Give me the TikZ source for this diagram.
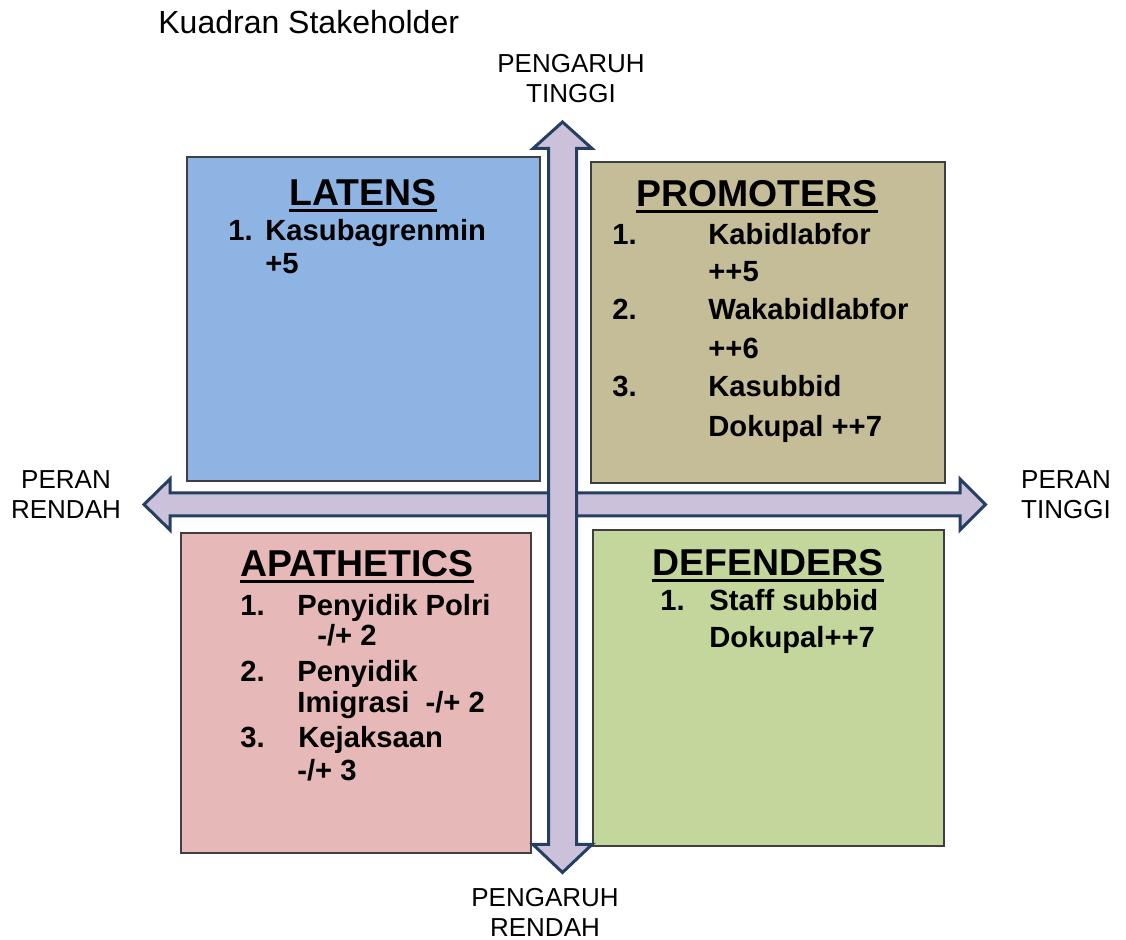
\documentclass[tikz,border=0pt]{standalone}
\usepackage{fontspec}
\setmainfont{Liberation Sans}
\definecolor{latfill}{HTML}{8EB4E3}
\definecolor{profill}{HTML}{C4BD97}
\definecolor{apafill}{HTML}{E6B9B8}
\definecolor{deffill}{HTML}{C3D69B}
\definecolor{axfill}{HTML}{CCC1DA}
\definecolor{axline}{HTML}{243F60}
\definecolor{boxline}{HTML}{3F3F3F}

\begin{document}
\begin{tikzpicture}[x=0.5pt,y=-0.5pt,
  quad/.style={draw=boxline,line width=0.9pt},
  axis/.style={fill=axfill,draw=axline,line width=1.5pt,line join=miter},
  qtitle/.style={anchor=base,inner sep=0pt,font=\bfseries\fontsize{18.7}{22}\selectfont},
  item/.style={anchor=base west,inner sep=0pt,font=\bfseries\fontsize{14.6}{17}\selectfont},
  axlabel/.style={align=center,inner sep=0pt,font=\fontsize{13}{15}\selectfont}]
\useasboundingbox (0,0) rectangle (1126,940);

% quadrants
\draw[quad,fill=latfill] (187,157) rectangle (540,481);
\draw[quad,fill=profill] (591,162) rectangle (945,483);
\draw[quad,fill=apafill] (181,533) rectangle (531,853);
\draw[quad,fill=deffill] (593,530) rectangle (944,846);

% axes
\draw[axis] (144,504.5) -- (170,479) -- (170,493) -- (960,493) -- (960,479)
  -- (985.5,504.5) -- (960,530) -- (960,516) -- (170,516) -- (170,530) -- cycle;
\draw[axis] (562.5,122) -- (592,148.5) -- (576.5,148.5) -- (576.5,844.5)
  -- (592,844.5) -- (562.5,872.5) -- (533,844.5) -- (548.5,844.5)
  -- (548.5,148.5) -- (533,148.5) -- cycle;

% labels
\node[anchor=base west,inner sep=0pt,font=\fontsize{16}{19}\selectfont] (title) at (158,33.5) {Kuadran Stakeholder};
\node[axlabel] (infHigh) at (571,79) {PENGARUH\\TINGGI};
\node[axlabel] (infLow) at (545,912) {PENGARUH\\RENDAH};
\node[axlabel] (roleLow) at (66,495) {PERAN\\RENDAH};
\node[axlabel] (roleHigh) at (1066,495) {PERAN\\TINGGI};

% latens
\node[qtitle] (latT) at (363,205.5) {LATENS};
\node[item] (lat1n) at (228,241) {1.};
\node[item] (lat1) at (265,241) {Kasubagrenmin};
\node[item] (lat1a) at (265,274) {+5};

% promoters
\node[qtitle] (proT) at (757,207) {PROMOTERS};
\node[item] (pro1n) at (612,245) {1.};
\node[item] (pro1) at (708,245) {Kabidlabfor};
\node[item] (pro1a) at (708,282) {++5};
\node[item] (pro2n) at (612,320) {2.};
\node[item] (pro2) at (708,320) {Wakabidlabfor};
\node[item] (pro2a) at (708,359) {++6};
\node[item] (pro3n) at (612,397) {3.};
\node[item] (pro3) at (708,397) {Kasubbid};
\node[item] (pro3a) at (708,437) {Dokupal ++7};

% apathetics
\node[qtitle] (apaT) at (357,577) {APATHETICS};
\node[item] (apa1n) at (240,616) {1.};
\node[item] (apa1) at (297,616) {Penyidik Polri};
\node[item] (apa1a) at (317,646) {-/+ 2};
\node[item] (apa2n) at (240,682) {2.};
\node[item] (apa2) at (297,682) {Penyidik};
\node[item] (apa2a) at (297,713) {Imigrasi\ \ -/+ 2};
\node[item] (apa3n) at (240,748) {3.};
\node[item] (apa3) at (298,748) {Kejaksaan};
\node[item] (apa3a) at (297,781) {-/+ 3};

% defenders
\node[qtitle] (defT) at (768,575.5) {DEFENDERS};
\node[item] (def1n) at (660,611) {1.};
\node[item] (def1) at (709,611) {Staff subbid};
\node[item] (def1a) at (709,648) {Dokupal++7};

\foreach \t in {latT,proT,apaT,defT}
  \draw[line width=1.5pt] ([yshift=-2.5pt]\t.base west) -- ([yshift=-2.5pt]\t.base east);

\end{tikzpicture}
\end{document}
